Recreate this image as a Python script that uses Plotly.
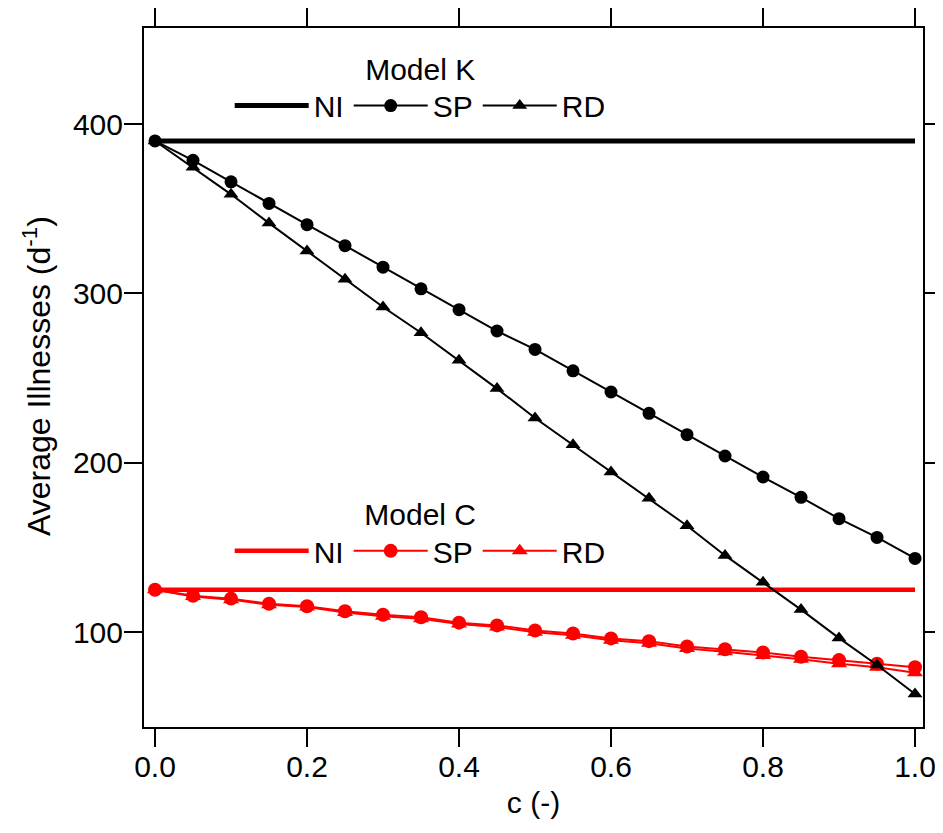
import plotly.graph_objects as go

c_vals = [0.0, 0.05, 0.1, 0.15, 0.2, 0.25, 0.3, 0.35, 0.4, 0.45, 0.5,
          0.55, 0.6, 0.65, 0.7, 0.75, 0.8, 0.85, 0.9, 0.95, 1.0]

ni_k = [390.0] * len(c_vals)
sp_k = [390, 378.6, 365.9, 353.1, 340.6, 328.2, 315.5, 302.7, 290.4, 277.8, 266.9,
        254.3, 241.8, 229.2, 216.6, 204.0, 191.6, 179.6, 167.0, 155.9, 143.5]
rd_k = [390, 374.5, 358.5, 341.5, 325.0, 308.3, 292.0, 276.8, 260.5, 243.8, 226.4,
        210.6, 194.6, 179.0, 162.8, 145.3, 129.4, 113.3, 96.5, 80.6, 63.5]

ni_c = [125.0] * len(c_vals)
sp_c = [125, 121.5, 119.8, 116.8, 115.3, 112.3, 110.3, 108.8, 105.6, 104.0, 101.0,
        99.2, 96.3, 94.7, 91.5, 89.9, 88.0, 85.5, 83.5, 81.3, 79.3]
rd_c = [125, 121.0, 119.2, 116.2, 114.8, 111.6, 109.4, 107.9, 104.8, 103.0, 100.0,
        98.2, 95.2, 93.5, 90.3, 88.5, 86.2, 84.0, 81.3, 79.3, 76.0]

x_ticks = [0.0, 0.2, 0.4, 0.6, 0.8, 1.0]
y_ticks = [100, 200, 300, 400]

FONT = "Liberation Sans, Arial, sans-serif"
RED = "#ff0000"
BLACK = "#000000"
FS = 30

fig = go.Figure()

# Model C (red)
fig.add_trace(go.Scatter(x=c_vals, y=ni_c, mode="lines", name="NI",
                         line=dict(color=RED, width=4.5), legend="legend2"))
fig.add_trace(go.Scatter(x=c_vals, y=sp_c, mode="lines+markers", name="SP",
                         line=dict(color=RED, width=2),
                         marker=dict(symbol="circle", size=14, color=RED),
                         legend="legend2"))
fig.add_trace(go.Scatter(x=c_vals, y=rd_c, mode="lines+markers", name="RD",
                         line=dict(color=RED, width=2),
                         marker=dict(symbol="triangle-up", size=14, color=RED),
                         legend="legend2"))

# Model K (black)
fig.add_trace(go.Scatter(x=c_vals, y=ni_k, mode="lines", name="NI",
                         line=dict(color=BLACK, width=5), legend="legend"))
fig.add_trace(go.Scatter(x=c_vals, y=sp_k, mode="lines+markers", name="SP",
                         line=dict(color=BLACK, width=2),
                         marker=dict(symbol="circle", size=13, color=BLACK),
                         legend="legend"))
fig.add_trace(go.Scatter(x=c_vals, y=rd_k, mode="lines+markers", name="RD",
                         line=dict(color=BLACK, width=2),
                         marker=dict(symbol="triangle-up", size=13, color=BLACK),
                         legend="legend"))

axis_common = dict(
    showline=True, linecolor="black", linewidth=2,
    ticks="outside", ticklen=18, tickwidth=2, tickcolor="black",
    mirror="ticks", showgrid=False, zeroline=False, automargin=False,
    ticklabeloverflow="allow",
    tickfont=dict(family=FONT, size=FS, color="black"),
)

fig.update_xaxes(range=[-0.0145, 1.0105], tickvals=x_ticks,
                 ticktext=[f"{v:.1f}" for v in x_ticks],
                 ticklabelstandoff=-6,
                 title=dict(text="c (-)", font=dict(family=FONT, size=FS, color="black"),
                            standoff=10),
                 **axis_common)
fig.update_yaxes(range=[44, 456.7], tickvals=y_ticks,
                 ticktext=[str(v) for v in y_ticks],
                 ticklabelstandoff=-5,
                 **axis_common)

fig.add_annotation(text="Average Illnesses (d<sup>-1</sup>)", textangle=-90,
                   xref="paper", yref="paper", x=-0.1374, y=0.502,
                   xanchor="center", yanchor="middle", showarrow=False,
                   font=dict(family=FONT, size=32, color="black"))

legend_common = dict(
    orientation="h", bgcolor="rgba(0,0,0,0)", borderwidth=0,
    font=dict(family=FONT, size=FS, color="black"),
    xanchor="left", yanchor="top", itemwidth=74, tracegroupgap=0,
    itemsizing="trace",
)

fig.update_layout(
    width=927, height=817,
    margin=dict(l=136, r=12, t=20, b=98),
    plot_bgcolor="white", paper_bgcolor="white",
    showlegend=True,
    legend=dict(x=0.110, y=0.982,
                title=dict(text="Model K", side="top center",
                           font=dict(family=FONT, size=FS, color="black")),
                **legend_common),
    legend2=dict(x=0.110, y=0.345,
                 title=dict(text="Model C", side="top center",
                            font=dict(family=FONT, size=FS, color="black")),
                 **legend_common),
)

fig.write_html("out.html")
